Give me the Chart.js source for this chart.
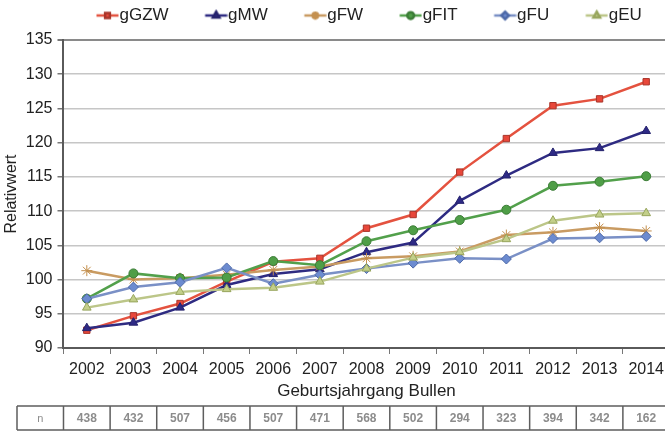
<!DOCTYPE html>
<html>
<head>
<meta charset="utf-8">
<script src="https://cdn.jsdelivr.net/npm/chart.js@4.4.0/dist/chart.umd.min.js"></script>
<style>
    html, body { margin: 0; padding: 0; background: #fff; }
    #wrap { width: 665px; height: 432px; overflow: hidden; }
</style>
</head>
<body>
<!-- the plot runs off the right edge in the original, so the canvas is a bit wider than the page -->
<div id="wrap"><canvas id="bullenChart" width="676" height="432"></canvas></div>
<script>
// Geburtsjahrgang der Bullen
var years = ['2002', '2003', '2004', '2005', '2006', '2007', '2008', '2009', '2010', '2011', '2012', '2013', '2014'];

// Relativwerte je Merkmal
var gGZW = [92.6, 94.7, 96.5, 99.7, 102.6, 103.1, 107.5, 109.5, 115.7, 120.6, 125.4, 126.4, 128.9];
var gMW  = [92.9, 93.7, 95.9, 99.2, 100.8, 101.5, 104.0, 105.4, 111.5, 115.2, 118.5, 119.2, 121.7];
var gFW  = [101.3, 100.0, 100.2, 100.7, 101.4, 101.9, 103.1, 103.4, 104.1, 106.5, 106.9, 107.6, 107.1];
var gFIT = [97.2, 100.9, 100.2, 100.3, 102.7, 102.1, 105.6, 107.2, 108.7, 110.2, 113.7, 114.3, 115.1];
var gFU  = [97.2, 98.9, 99.6, 101.7, 99.4, 100.7, 101.6, 102.4, 103.1, 103.0, 106.0, 106.1, 106.3];
var gEU  = [95.9, 97.1, 98.2, 98.6, 98.8, 99.7, 101.6, 103.2, 104.0, 105.9, 108.6, 109.5, 109.7];

// Anzahl Bullen je Jahrgang
var nBullen = [438, 432, 507, 456, 507, 471, 568, 502, 294, 323, 394, 342, 162];

var yMin = 90, yMax = 135, yStep = 5;

var font = '"Liberation Sans", Arial, sans-serif';

function legendIcon(line, fill, border, style, r) {
    var c = document.createElement('canvas');
    c.width = 60;
    c.height = 14;
    var g = c.getContext('2d');
    g.strokeStyle = line;
    g.lineWidth = 2.5;
    g.beginPath();
    g.moveTo(37.5, 7);
    g.lineTo(59.5, 7);
    g.stroke();
    g.fillStyle = fill;
    g.strokeStyle = border;
    Chart.helpers.drawPoint(g, {pointStyle: style, radius: r, borderWidth: 1, rotation: 0}, 48.5, 7);
    return c;
}

function series(label, data, line, fill, border, style, r, order) {
    return {
        label: label,
        data: data,
        borderColor: line,
        backgroundColor: fill,
        pointBackgroundColor: fill,
        pointBorderColor: border,
        pointBorderWidth: 1,
        pointStyle: style,
        pointRadius: r,
        borderWidth: 2.5,
        tension: 0,
        order: order,
        icon: legendIcon(line, fill, border, style, r * 0.75)
    };
}

// legend sits a bit right of centre and close to the top edge
var legendShift = {
    id: 'legendShift',
    afterLayout: function(chart) {
        chart.legend.left = 60;
        chart.legend.top -= 6;
    }
};

// n-table below the axis title, columns follow the x categories
var nTable = {
    id: 'nTable',
    afterDraw: function(chart) {
        var ctx = chart.ctx;
        var x = chart.scales.x;
        var step = x.width / years.length;
        var top = chart.height - 26, bottom = chart.height - 2;
        var left = 17;
        ctx.save();
        ctx.strokeStyle = '#5e5e5e';
        ctx.lineWidth = 1.5;
        ctx.beginPath();
        ctx.moveTo(left, top);
        ctx.lineTo(x.right, top);
        ctx.moveTo(left, bottom);
        ctx.lineTo(x.right, bottom);
        ctx.moveTo(left, top);
        ctx.lineTo(left, bottom);
        for (var i = 0; i <= years.length; i++) {
            var px = x.left + i * step;
            ctx.moveTo(px, top);
            ctx.lineTo(px, bottom);
        }
        ctx.stroke();
        ctx.fillStyle = '#8c8c8c';
        ctx.textAlign = 'center';
        ctx.textBaseline = 'middle';
        ctx.font = '11px ' + font;
        ctx.fillText('n', (left + x.left) / 2, (top + bottom) / 2 + 1);
        ctx.font = 'bold 12px ' + font;
        nBullen.forEach(function(v, i) {
            ctx.fillText(String(v), x.getPixelForValue(i), (top + bottom) / 2 + 1);
        });
        ctx.restore();
    }
};

var ctx = document.getElementById('bullenChart').getContext('2d');
var bullenChart = new Chart(ctx, {
    type: 'line',
    data: {
        labels: years,
        datasets: [
            series('gGZW', gGZW, '#e4523f', '#e8473a', '#a9352a', 'rect', 4.5, 5),
            series('gMW', gMW, '#2e2b82', '#2e2a86', '#25226c', 'triangle', 5, 4),
            series('gFW', gFW, '#c99b62', '#c99b62', '#c4904f', 'star', 5.5, 3),
            series('gFIT', gFIT, '#52a04b', '#4f9e47', '#3b7c36', 'circle', 4.5, 2),
            series('gFU', gFU, '#7a90c6', '#6c8bd0', '#4d69a8', 'rectRot', 5, 1),
            series('gEU', gEU, '#bcc688', '#c3cf8a', '#97a55c', 'triangle', 5, 0)
        ]
    },
    options: {
        responsive: false,
        animation: false,
        layout: {
            padding: {top: 6, right: 0, bottom: 29.8, left: 0}
        },
        plugins: {
            tooltip: {enabled: false},
            legend: {
                position: 'top',
                align: 'start',
                labels: {
                    usePointStyle: true,
                    pointStyleWidth: 44,
                    padding: 7,
                    color: '#222',
                    font: {family: font, size: 17},
                    generateLabels: function(chart) {
                        return chart.data.datasets.map(function(ds, i) {
                            return {
                                text: ds.label,
                                datasetIndex: i,
                                pointStyle: ds.icon,
                                fillStyle: ds.backgroundColor,
                                strokeStyle: ds.borderColor,
                                lineWidth: 0,
                                fontColor: '#222',
                                hidden: false
                            };
                        });
                    }
                }
            }
        },
        scales: {
            x: {
                offset: true,
                afterFit: function(scale) {
                    scale.paddingLeft = 0;
                    scale.paddingRight = 0;
                },
                grid: {
                    offset: true,
                    drawOnChartArea: false,
                    tickLength: 6,
                    tickColor: '#777'
                },
                border: {color: '#5a5a5a', width: 2},
                ticks: {
                    color: '#222',
                    padding: 5.5,
                    maxRotation: 0,
                    font: {family: font, size: 16}
                },
                title: {
                    display: true,
                    text: 'Geburtsjahrgang Bullen',
                    color: '#222',
                    padding: {top: -1, bottom: 2},
                    font: {family: font, size: 17, lineHeight: 1}
                }
            },
            y: {
                min: yMin,
                max: yMax,
                grid: {
                    color: function(c) { return c.tick && c.tick.value === yMax ? '#8a8a8a' : '#c6c6c6'; },
                    lineWidth: function(c) { return c.tick && c.tick.value === yMax ? 2 : 1.5; },
                    tickLength: 6,
                    tickColor: '#777'
                },
                border: {color: '#5a5a5a', width: 2},
                ticks: {
                    stepSize: yStep,
                    color: '#222',
                    padding: 5,
                    font: {family: font, size: 16}
                },
                title: {
                    display: true,
                    text: 'Relativwert',
                    color: '#222',
                    padding: {top: 1.6, bottom: 0},
                    font: {family: font, size: 16}
                }
            }
        }
    },
    plugins: [legendShift, nTable]
});
</script>
</body>
</html>
